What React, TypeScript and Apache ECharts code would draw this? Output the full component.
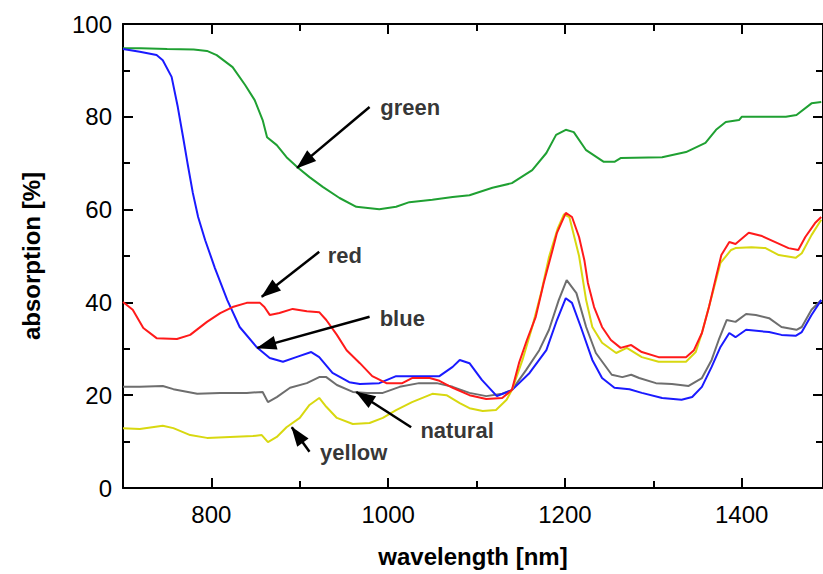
import React, { useEffect, useRef } from "react";
import * as echarts from "echarts";

// ---- data (wavelength nm, absorption %) ----
const greenX = [700, 720, 750, 780, 795, 806, 824, 838, 849, 858, 863, 874, 885, 898, 911, 926, 945, 964, 990, 1009, 1024, 1050, 1073, 1092, 1118, 1140, 1163, 1179, 1190, 1201, 1210, 1224, 1244, 1256, 1263, 1310, 1337, 1359, 1371, 1382, 1397, 1400, 1450, 1462, 1479, 1490];
const greenY = [94.8, 94.8, 94.6, 94.5, 94.2, 93.3, 90.7, 86.9, 83.6, 79.3, 75.6, 73.9, 71.3, 69.0, 67.0, 64.9, 62.5, 60.6, 60.1, 60.6, 61.6, 62.1, 62.7, 63.1, 64.7, 65.7, 68.5, 72.2, 76.1, 77.2, 76.7, 72.8, 70.3, 70.3, 71.1, 71.3, 72.4, 74.4, 77.2, 78.9, 79.3, 80.0, 80.0, 80.4, 82.9, 83.2];

const blueX = [700, 719, 738, 745, 755, 762, 768, 773, 779, 785, 793, 804, 818, 832, 851, 866, 881, 896, 913, 922, 937, 956, 968, 990, 1009, 1035, 1058, 1073, 1081, 1092, 1106, 1123, 1140, 1160, 1179, 1191, 1201, 1208, 1218, 1231, 1242, 1256, 1273, 1287, 1310, 1332, 1344, 1355, 1366, 1376, 1386, 1393, 1405, 1431, 1445, 1461, 1468, 1479, 1490];
const blueY = [94.6, 94.0, 93.3, 92.2, 88.6, 82.1, 75.6, 70.0, 63.6, 58.4, 53.4, 47.4, 40.5, 34.7, 30.4, 28.0, 27.2, 28.2, 29.3, 28.2, 24.8, 22.8, 22.4, 22.6, 24.1, 24.1, 24.1, 26.1, 27.6, 26.9, 23.3, 19.8, 21.1, 24.8, 29.7, 36.2, 40.9, 39.9, 34.7, 27.6, 23.7, 21.6, 21.3, 20.5, 19.4, 19.0, 19.6, 21.8, 26.1, 30.4, 33.4, 32.5, 34.1, 33.6, 33.0, 32.8, 33.6, 37.3, 40.5];

const redX = [700, 711, 723, 738, 761, 776, 795, 810, 824, 840, 855, 860, 866, 877, 892, 908, 922, 930, 942, 953, 968, 982, 998, 1016, 1027, 1047, 1058, 1073, 1092, 1111, 1129, 1140, 1148, 1157, 1167, 1176, 1186, 1191, 1201, 1208, 1216, 1222, 1226, 1233, 1242, 1252, 1263, 1275, 1287, 1306, 1337, 1346, 1355, 1363, 1371, 1377, 1386, 1393, 1408, 1423, 1438, 1453, 1464, 1472, 1483, 1490];
const redY = [40.1, 38.4, 34.5, 32.3, 32.1, 33.0, 35.8, 37.7, 39.0, 39.9, 39.9, 39.0, 37.3, 37.7, 38.6, 38.1, 37.9, 36.2, 33.0, 29.7, 26.9, 24.1, 22.6, 22.6, 23.7, 23.7, 23.1, 21.6, 20.0, 19.2, 19.4, 21.1, 26.9, 31.9, 36.9, 44.2, 51.3, 55.0, 59.3, 58.4, 54.1, 49.1, 44.2, 39.0, 34.7, 31.9, 30.2, 30.8, 29.3, 28.2, 28.2, 29.7, 33.4, 39.0, 45.5, 50.2, 53.0, 52.6, 55.0, 54.3, 53.0, 51.7, 51.3, 54.1, 57.1, 58.4];

const yellowX = [700, 719, 745, 757, 776, 795, 821, 847, 857, 864, 874, 885, 900, 911, 922, 930, 942, 960, 979, 994, 1009, 1027, 1050, 1066, 1081, 1092, 1107, 1122, 1134, 1140, 1152, 1163, 1173, 1182, 1192, 1199, 1205, 1216, 1224, 1231, 1242, 1258, 1270, 1287, 1306, 1337, 1348, 1355, 1366, 1376, 1388, 1393, 1411, 1427, 1442, 1461, 1468, 1479, 1490];
const yellowY = [12.9, 12.7, 13.4, 12.9, 11.4, 10.8, 11.0, 11.2, 11.4, 9.9, 11.0, 13.1, 15.1, 17.9, 19.4, 17.5, 15.1, 13.8, 14.0, 15.1, 16.8, 18.5, 20.3, 20.0, 18.3, 17.2, 16.6, 16.8, 19.0, 21.1, 27.6, 34.7, 42.0, 49.8, 56.0, 59.0, 58.4, 50.0, 40.5, 34.7, 31.3, 29.1, 30.2, 28.2, 27.2, 27.2, 29.3, 33.4, 41.2, 48.5, 51.3, 51.7, 51.9, 51.7, 50.2, 49.6, 50.6, 54.5, 57.8];

const naturalX = [700, 719, 745, 757, 784, 810, 840, 858, 864, 874, 889, 908, 922, 930, 942, 960, 976, 994, 1013, 1035, 1055, 1073, 1092, 1111, 1129, 1140, 1156, 1171, 1182, 1193, 1202, 1213, 1224, 1235, 1253, 1265, 1275, 1284, 1303, 1321, 1340, 1355, 1366, 1374, 1383, 1393, 1405, 1416, 1431, 1445, 1462, 1468, 1479, 1490];
const naturalY = [21.8, 21.8, 22.0, 21.3, 20.3, 20.5, 20.5, 20.7, 18.5, 19.6, 21.6, 22.6, 23.9, 23.9, 22.2, 20.7, 20.5, 20.5, 21.8, 22.6, 22.6, 21.8, 20.5, 19.8, 20.3, 21.1, 25.4, 29.7, 34.1, 40.5, 44.8, 42.0, 34.7, 29.1, 24.4, 23.9, 24.4, 23.7, 22.6, 22.4, 22.0, 23.7, 27.6, 31.9, 36.2, 35.8, 37.5, 37.3, 36.6, 34.7, 34.1, 34.7, 38.4, 40.5];

// axis ticks
const xMajorTicks = [800, 1000, 1200, 1400];
const xMinorTicks = [900, 1100, 1300];

// annotations: label text, label position, arrow start, arrow tip (data coords)
const annoNames = ["green", "red", "blue", "natural", "yellow"];
const annoLabelX = [1025, 951, 1016, 1078, 961];
const annoLabelY = [82.1, 50.2, 36.6, 12.3, 7.6];
const arrowFromX = [979, 922, 979, 1026, 911];
const arrowFromY = [82.1, 50.9, 36.9, 13.1, 7.8];
const arrowToX = [897, 857, 852, 964, 891];
const arrowToY = [69.0, 41.2, 30.2, 20.7, 13.1];

const FONT = "'Liberation Sans', Arial, Helvetica, sans-serif";

function pairs(xs: number[], ys: number[]) {
  return xs.map((x, i) => [x, ys[i]]);
}

export default function App() {
  const ref = useRef<HTMLDivElement>(null);
  useEffect(() => {
    if (!ref.current) return;
    const chart = echarts.init(ref.current, null, { renderer: "svg" });
    const black = "#000";
    const mkLine = (name: string, xs: number[], ys: number[], color: string) => ({
      type: "line",
      name,
      data: pairs(xs, ys),
      showSymbol: false,
      symbol: "none",
      lineStyle: { color, width: 2 },
      itemStyle: { color },
      silent: true,
      z: 3,
    });
    const xCommon = { type: "value", min: 700, max: 1492, interval: 100, splitLine: { show: false } };
    const yCommon = { type: "value", min: 0, max: 100, interval: 20, splitLine: { show: false } };
    const tickStyle = { color: black, width: 2 };
    chart.setOption({
      animation: false,
      backgroundColor: "#fff",
      textStyle: { fontFamily: FONT },
      grid: { left: 123, right: -2, top: 24, bottom: 86 },
      xAxis: [
        {
          ...xCommon,
          position: "bottom",
          axisLine: { lineStyle: { color: black, width: 2 } },
          axisTick: { inside: true, length: 10, customValues: xMajorTicks, lineStyle: tickStyle },
          axisLabel: {
            customValues: xMajorTicks,
            fontSize: 24,
            color: black,
            margin: 14,
            fontFamily: FONT,
            formatter: (v: number) => String(v),
          },
          name: "wavelength [nm]",
          nameLocation: "middle",
          nameGap: 56,
          nameTextStyle: { fontSize: 24, fontWeight: "bold", color: black, fontFamily: FONT },
        },
        {
          ...xCommon,
          position: "bottom",
          axisLine: { show: false },
          axisTick: { inside: true, length: 7, customValues: xMinorTicks, lineStyle: tickStyle },
          axisLabel: { show: false },
        },
        {
          ...xCommon,
          position: "top",
          axisLine: { lineStyle: { color: black, width: 2 } },
          axisTick: { inside: true, length: 10, customValues: xMajorTicks, lineStyle: tickStyle },
          axisLabel: { show: false },
        },
        {
          ...xCommon,
          position: "top",
          axisLine: { show: false },
          axisTick: { inside: true, length: 7, customValues: xMinorTicks, lineStyle: tickStyle },
          axisLabel: { show: false },
        },
      ],
      yAxis: [
        {
          ...yCommon,
          position: "left",
          axisLine: { show: true, lineStyle: { color: black, width: 2 } },
          axisTick: { show: true, inside: true, length: 10, lineStyle: tickStyle },
          minorTick: { show: true, splitNumber: 2, length: 7, lineStyle: tickStyle },
          axisLabel: { fontSize: 24, color: black, margin: 11, fontFamily: FONT },
          name: "absorption [%]",
          nameLocation: "middle",
          nameGap: 80,
          nameTextStyle: { fontSize: 24, fontWeight: "bold", color: black, fontFamily: FONT },
        },
        {
          ...yCommon,
          position: "right",
          axisLine: { show: true, lineStyle: { color: black, width: 2 } },
          axisTick: { show: true, inside: true, length: 10, lineStyle: tickStyle },
          minorTick: { show: true, splitNumber: 2, length: 7, lineStyle: tickStyle },
          axisLabel: { show: false },
        },
      ],
      series: [
        mkLine("green", greenX, greenY, "#1fa032"),
        mkLine("natural", naturalX, naturalY, "#6e6e6e"),
        mkLine("blue", blueX, blueY, "#1a1aff"),
        mkLine("yellow", yellowX, yellowY, "#d8d810"),
        mkLine("red", redX, redY, "#ff1a1a"),
        {
          type: "scatter",
          name: "annotations",
          silent: true,
          symbolSize: 0,
          z: 5,
          itemStyle: { color: black },
          data: annoNames.map((n, i) => ({ name: n, value: [annoLabelX[i], annoLabelY[i]] })),
          label: {
            show: true,
            position: "inside",
            formatter: "{b}",
            fontSize: 22,
            fontWeight: "bold",
            color: black,
            textBorderWidth: 0,
            textBorderColor: "transparent",
            fontFamily: FONT,
          },
          markLine: {
            silent: true,
            symbol: ["none", "triangle"],
            symbolSize: [14, 20],
            symbolOffset: [0, [0, 9]],
            label: { show: false },
            lineStyle: { color: black, width: 2.5, type: "solid" },
            itemStyle: { color: black },
            data: annoNames.map((_, i) => [
              { coord: [arrowFromX[i], arrowFromY[i]] },
              { coord: [arrowToX[i], arrowToY[i]] },
            ]),
          },
        },
      ],
    });
    return () => chart.dispose();
  }, []);
  return (
    <div
      ref={ref}
      style={{ position: "fixed", left: 0, top: 0, width: 823, height: 574, background: "#fff" }}
    />
  );
}
